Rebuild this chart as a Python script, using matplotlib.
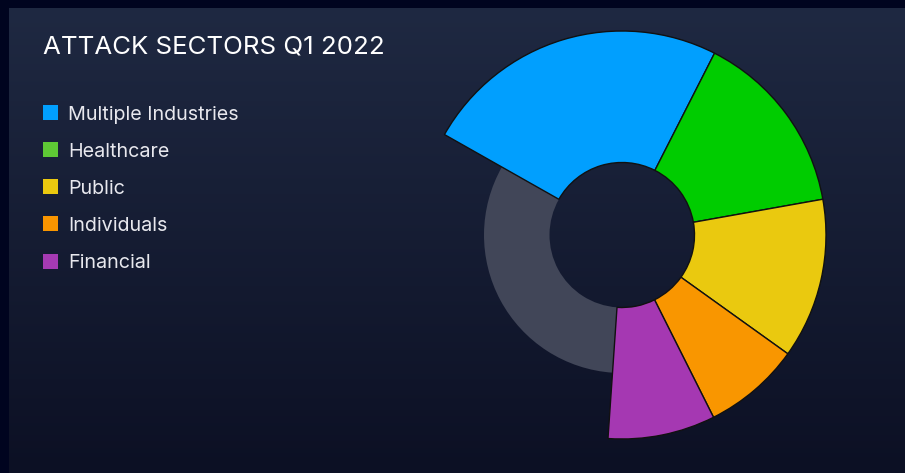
import numpy as np
import matplotlib.pyplot as plt
from matplotlib.patches import Rectangle

# sector shares (degrees -> %)
sectors = ['Multiple Industries', 'Healthcare', 'Public', 'Individuals', 'Financial', 'Other']
shares = [24.3, 14.7, 12.7, 7.7, 8.5, 32.1]
pie_colors = ['#019ffe', '#00cc00', '#eac90f', '#f99600', '#a538b2', '#414658']
legend_colors = ['#019ffe', '#5ec935', '#ebc90f', '#f99500', '#a53ab3']

W, H = 905, 473
fig = plt.figure(figsize=(W / 100, H / 100), dpi=100)
fig.patch.set_facecolor('#00041f')

# panel with vertical gradient
bg = fig.add_axes([9 / W, 0, 1 - 9 / W, 1 - 8 / H])
grad = np.linspace(0, 1, 256).reshape(-1, 1)
top = np.array([0x1f, 0x29, 0x42]) / 255
bot = np.array([0x0c, 0x10, 0x24]) / 255
img = top + (bot - top) * grad[:, :, None]
bg.imshow(img, aspect='auto', extent=[0, 1, 0, 1])
bg.axis('off')

# pie axes
R = 204
ax = fig.add_axes([418 / W, 34 / H, 2 * R / W, 2 * R / H])
ax.axis('off')

inner = 72.5 / R
grey_r = 138 / R

outer_cols = pie_colors[:-1] + ['none']
wedges, _ = ax.pie(shares, colors=outer_cols, startangle=150.5, counterclock=False,
                   radius=1, wedgeprops=dict(width=1 - inner, edgecolor='#111111', linewidth=1))
wedges[-1].set_edgecolor('none')

grey_cols = ['none'] * 5 + [pie_colors[-1]]
wedges2, _ = ax.pie(shares, colors=grey_cols, startangle=150.5, counterclock=False,
                    radius=grey_r, wedgeprops=dict(width=grey_r - inner, edgecolor='none', linewidth=0))
for w in wedges2:
    w.set_zorder(0)
ax.set_xlim(-1, 1)
ax.set_ylim(-1, 1)

# title
fig.text(43 / W, 1 - 47 / H, 'ATTACK SECTORS Q1 2022', color='white', fontsize=18.6,
         family='Inter', va='center', ha='left')

# legend drawn by hand
for i, (name, c) in enumerate(zip(sectors[:5], legend_colors)):
    yc = 113 + 37 * i
    fig.patches.append(Rectangle((43 / W, 1 - (yc + 7.5) / H), 15 / W, 15 / H,
                                 transform=fig.transFigure, facecolor=c, edgecolor='none'))
    fig.text(68 / W, 1 - yc / H, name, color='#e8e8ee', fontsize=14.2, family='Inter',
             va='center_baseline', ha='left')

fig.savefig('out.png', dpi=100, facecolor=fig.get_facecolor())
